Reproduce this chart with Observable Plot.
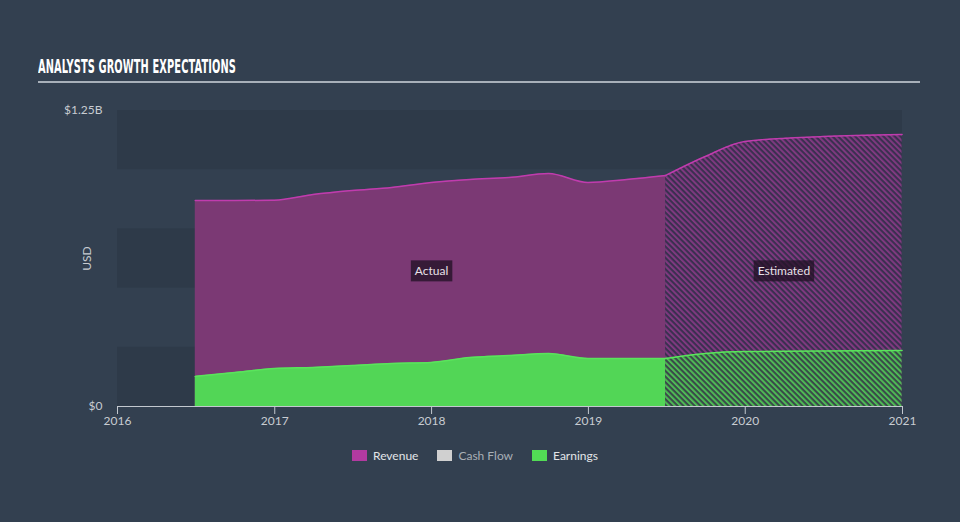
<!DOCTYPE html>
<html>
<head>
<meta charset="utf-8">
<script src="https://cdn.jsdelivr.net/npm/d3@7"></script>
<script src="https://cdn.jsdelivr.net/npm/@observablehq/plot@0.6"></script>
<style>
  html, body { margin: 0; padding: 0; }
  body { background: #334050; width: 960px; height: 522px; overflow: hidden; font-family: Lato, "Open Sans", sans-serif; }
  #title { position: relative; height: 100px; }
  #title .t { position: absolute; left: 38px; top: 57px; font-family: "Liberation Sans Narrow", "DejaVu Sans Condensed", sans-serif; font-weight: bold; font-size: 19px; line-height: 19px; color: #ffffff; transform-origin: left center; white-space: nowrap; letter-spacing: 0.2px; }
  #title .rule { position: absolute; left: 38px; top: 81px; width: 882px; height: 2px; background: #a8b0b9; }
  #chart { height: 340px; }
  #legend { position: relative; height: 31px; }
  #legend .items { position: absolute; left: 352px; top: 0; height: 31px; display: flex; align-items: center; font-size: 12px; }
  #legend .item { display: flex; align-items: center; margin-right: 19px; }
  #legend .sw { width: 15px; height: 11px; margin-right: 6px; }
</style>
</head>
<body>
<div id="title"><span class="t">ANALYSTS GROWTH EXPECTATIONS</span><div class="rule"></div></div>
<div id="chart"></div>
<div id="legend"><div class="items"></div></div>
<script>
// ---- data (values in billions USD) ----
const actualDates    = ["2016-06-30","2016-09-30","2016-12-31","2017-03-31","2017-06-30","2017-09-30","2017-12-31","2018-03-31","2018-06-30","2018-09-30","2018-12-31","2019-03-31","2019-06-30"];
const actualRevenue  = [0.870, 0.870, 0.871, 0.895, 0.912, 0.925, 0.946, 0.959, 0.967, 0.984, 0.946, 0.959, 0.976];
const actualEarnings = [0.127, 0.144, 0.160, 0.165, 0.173, 0.182, 0.186, 0.207, 0.215, 0.224, 0.203, 0.203, 0.203];

const estDates    = ["2019-06-30","2019-09-30","2019-12-31","2020-06-30","2020-12-31"];
const estRevenue  = [0.976, 1.056, 1.119, 1.140, 1.149];
const estEarnings = [0.203, 0.224, 0.232, 0.234, 0.236];

const xDomainDates = ["2016-01-01", "2021-01-01"];
const xTickDates   = ["2016-01-01","2017-01-01","2018-01-01","2019-01-01","2020-01-01","2021-01-01"];
const yTicks       = [0, 1.25];
const bandStarts   = [0, 0.5, 1.0];
const bandSize     = 0.25;

const periodLabels = ["Actual", "Estimated"];
const periodDates  = ["2018-01-01", "2020-03-31"];
const periodY      = [0.57, 0.57];

const legendNames  = ["Revenue", "Cash Flow", "Earnings"];
const legendColors = ["#b23aa0", "#d0d0d0", "#52dc55"];
const legendText   = ["#e2e5e8", "#a9afb6", "#e2e5e8"];

// ---- build tables ----
const parse = s => new Date(s + "T00:00:00Z");
const actual = actualDates.map((d, i) => ({date: parse(d), revenue: actualRevenue[i], earnings: actualEarnings[i]}));
const est = estDates.map((d, i) => ({date: parse(d), revenue: estRevenue[i], earnings: estEarnings[i]}));
const xDomain = xDomainDates.map(parse);
const bands = bandStarts.map(lo => ({lo, hi: lo + bandSize, x1: xDomain[0], x2: xDomain[1]}));
const labels = periodLabels.map((t, i) => ({text: t, date: parse(periodDates[i]), y: periodY[i]}));

const revFill = "#7b3974", revLine = "#c03cae";
const earnFill = "#52d656", earnLine = "#5ae45c";
const axisColor = "#c3c8cf", textColor = "#c8ccd2";

function defsMark() {
  const ns = "http://www.w3.org/2000/svg";
  const g = document.createElementNS(ns, "g");
  const defs = document.createElementNS(ns, "defs");
  const mk = (id, base, stripe) => {
    const p = document.createElementNS(ns, "pattern");
    p.setAttribute("id", id);
    p.setAttribute("patternUnits", "userSpaceOnUse");
    p.setAttribute("width", "4");
    p.setAttribute("height", "4");
    p.setAttribute("patternTransform", "rotate(-45)");
    const r = document.createElementNS(ns, "rect");
    r.setAttribute("width", "4"); r.setAttribute("height", "4"); r.setAttribute("fill", base);
    const l = document.createElementNS(ns, "rect");
    l.setAttribute("width", "1.8"); l.setAttribute("height", "4"); l.setAttribute("fill", stripe);
    p.appendChild(r); p.appendChild(l);
    defs.appendChild(p);
  };
  mk("hatchRev", "#3b3050", "#853a84");
  mk("hatchEarn", "#3a4a4a", "#50c455");
  g.appendChild(defs);
  return g;
}

const plot = Plot.plot({
  width: 960,
  height: 340,
  marginTop: 10,
  marginBottom: 34,
  marginLeft: 117,
  marginRight: 58,
  style: {background: "transparent", fontFamily: "Lato, 'Open Sans', sans-serif", fontSize: "12px", color: textColor, overflow: "visible"},
  x: {type: "utc", domain: xDomain},
  y: {domain: [0, 1.25]},
  marks: [
    defsMark,
    Plot.rect(bands, {x1: "x1", x2: "x2", y1: "lo", y2: "hi", fill: "#2e3a49"}),
    Plot.areaY(actual, {x: "date", y: "revenue", fill: revFill, curve: "monotone-x"}),
    Plot.areaY(est, {x: "date", y: "revenue", fill: "url(#hatchRev)", curve: "monotone-x"}),
    Plot.areaY(actual, {x: "date", y: "earnings", fill: earnFill, curve: "monotone-x"}),
    Plot.areaY(est, {x: "date", y: "earnings", fill: "url(#hatchEarn)", curve: "monotone-x"}),
    Plot.lineY(actual, {x: "date", y: "revenue", stroke: revLine, strokeWidth: 1.5, curve: "monotone-x"}),
    Plot.lineY(est, {x: "date", y: "revenue", stroke: revLine, strokeWidth: 1.5, curve: "monotone-x"}),
    Plot.lineY(actual, {x: "date", y: "earnings", stroke: earnLine, strokeWidth: 1.5, curve: "monotone-x"}),
    Plot.lineY(est, {x: "date", y: "earnings", stroke: earnLine, strokeWidth: 1.5, curve: "monotone-x"}),
    Plot.text(labels, {x: "date", y: "y", text: "text", fill: "#e8e0e8", fontSize: 12}),
    Plot.ruleY([0], {stroke: axisColor, strokeWidth: 1.2}),
    Plot.axisX({ticks: xTickDates.map(parse), tickFormat: d3.utcFormat("%Y"), tickSize: 8, tickPadding: 2, stroke: axisColor, color: textColor, label: null}),
    Plot.axisY({ticks: yTicks, tickFormat: d => d === 0 ? "$0" : "$" + d + "B", tickSize: 0, tickPadding: 15, color: textColor, label: "USD", labelAnchor: "center", labelArrow: "none", labelOffset: 35})
  ]
});
document.getElementById("chart").appendChild(plot);

// label background boxes (sized from the rendered text)
const ns = "http://www.w3.org/2000/svg";
plot.querySelectorAll("text").forEach(t => {
  if (!periodLabels.includes(t.textContent)) return;
  const b = t.getBBox();
  const r = document.createElementNS(ns, "rect");
  r.setAttribute("x", b.x - 4);
  r.setAttribute("y", b.y - 3);
  r.setAttribute("width", b.width + 8);
  r.setAttribute("height", b.height + 6);
  r.setAttribute("fill", "rgba(35,18,38,0.78)");
  if (t.getAttribute("transform")) r.setAttribute("transform", t.getAttribute("transform"));
  t.parentNode.insertBefore(r, t);
});

// title width fit (reference title spans ~198px)
const tEl = document.querySelector("#title .t");
const w = tEl.getBoundingClientRect().width;
tEl.style.transform = `scaleX(${198 / w})`;

// legend
const items = document.querySelector("#legend .items");
legendNames.forEach((n, i) => {
  const it = document.createElement("div");
  it.className = "item";
  const sw = document.createElement("div");
  sw.className = "sw";
  sw.style.background = legendColors[i];
  const tx = document.createElement("span");
  tx.textContent = n;
  tx.style.color = legendText[i];
  it.appendChild(sw); it.appendChild(tx);
  items.appendChild(it);
});
</script>
</body>
</html>
